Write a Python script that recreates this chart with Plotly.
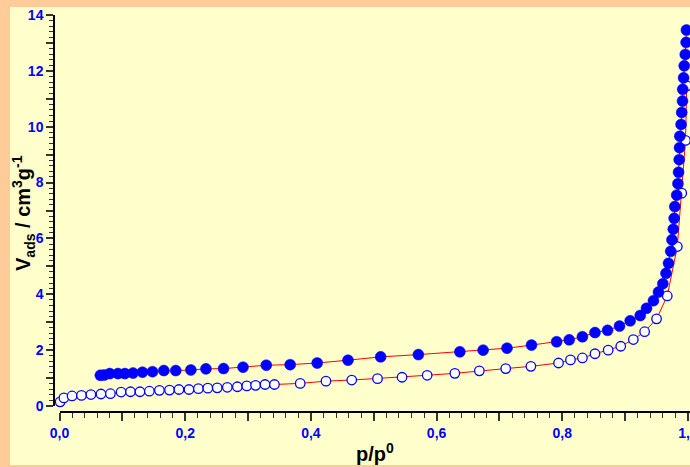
import plotly.graph_objects as go

# Adsorption branch (open circles)
ads_x = [0.001, 0.007, 0.020, 0.035, 0.050, 0.066, 0.081, 0.098, 0.113, 0.128,
         0.143, 0.159, 0.175, 0.190, 0.206, 0.221, 0.236, 0.251, 0.267, 0.283,
         0.298, 0.312, 0.327, 0.342, 0.383, 0.424, 0.465, 0.506, 0.545, 0.585,
         0.629, 0.668, 0.710, 0.750, 0.794, 0.813, 0.832, 0.852, 0.873, 0.893,
         0.913, 0.931, 0.950, 0.967, 0.983, 0.990, 0.996, 0.998]
ads_y = [0.15, 0.29, 0.36, 0.38, 0.41, 0.43, 0.44, 0.50, 0.51, 0.51,
         0.53, 0.56, 0.57, 0.59, 0.59, 0.62, 0.64, 0.65, 0.67, 0.69,
         0.72, 0.74, 0.77, 0.77, 0.81, 0.89, 0.93, 0.98, 1.03, 1.10,
         1.17, 1.26, 1.34, 1.42, 1.54, 1.65, 1.72, 1.87, 2.00, 2.14,
         2.38, 2.66, 3.12, 3.94, 5.71, 7.62, 9.51, 11.46]

# Desorption branch (filled circles)
des_x = [0.065, 0.071, 0.080, 0.093, 0.104, 0.117, 0.132, 0.148, 0.166, 0.185,
         0.209, 0.233, 0.261, 0.292, 0.329, 0.367, 0.410, 0.459, 0.511, 0.571,
         0.637, 0.674, 0.712, 0.751, 0.791, 0.811, 0.832, 0.852, 0.872, 0.891,
         0.908, 0.924, 0.934, 0.945, 0.953, 0.960, 0.965, 0.969, 0.9725, 0.9745,
         0.9766, 0.978, 0.979, 0.982, 0.984, 0.985, 0.986, 0.9865, 0.987, 0.989,
         0.990, 0.9913, 0.9916, 0.993, 0.994, 0.9957, 0.997, 0.9975]
des_y = [1.10, 1.11, 1.16, 1.16, 1.16, 1.18, 1.21, 1.23, 1.27, 1.27,
         1.29, 1.33, 1.34, 1.39, 1.46, 1.48, 1.54, 1.64, 1.76, 1.84,
         1.94, 2.00, 2.07, 2.18, 2.30, 2.37, 2.48, 2.63, 2.71, 2.86,
         3.05, 3.24, 3.50, 3.77, 4.08, 4.38, 4.75, 5.11, 5.54, 5.95,
         6.33, 6.72, 7.14, 7.55, 7.96, 8.37, 8.82, 9.25, 9.66, 10.08,
         10.51, 10.92, 11.34, 11.75, 12.18, 12.59, 13.02, 13.46]

x_tickvals = [0.0, 0.1, 0.2, 0.3, 0.4, 0.5, 0.6, 0.7, 0.8, 0.9, 1.0]
x_ticktext = ["0,0", "", "0,2", "", "0,4", "", "0,6", "", "0,8", "", "1,0"]
y_tickvals = list(range(0, 15))
y_ticktext = [str(v) if v % 2 == 0 else "" for v in y_tickvals]

W, H = 690, 467
ML, MR, MT, MB = 54, 0, 15, 55
PW, PH = W - ML - MR, H - MT - MB


def px(x):
    return (x - ML) / PW


def py(y):
    return (H - MB - y) / PH


def bold(labels):
    return ["<b>%s</b>" % t if t else "" for t in labels]


fig = go.Figure()

# red connecting lines
fig.add_trace(go.Scatter(x=ads_x, y=ads_y, mode="lines",
                         line=dict(color="#FF0000", width=1),
                         cliponaxis=False, showlegend=False, hoverinfo="skip"))
fig.add_trace(go.Scatter(x=des_x, y=des_y, mode="lines",
                         line=dict(color="#FF0000", width=1),
                         cliponaxis=False, showlegend=False, hoverinfo="skip"))
# markers
fig.add_trace(go.Scatter(x=ads_x, y=ads_y, mode="markers",
                         marker=dict(size=9.5, color="white",
                                     line=dict(color="#0000FF", width=1.3)),
                         cliponaxis=False, showlegend=False))
fig.add_trace(go.Scatter(x=des_x, y=des_y, mode="markers",
                         marker=dict(size=11, color="#0000FF",
                                     line=dict(color="#0000FF", width=0.5)),
                         cliponaxis=False, showlegend=False))

tickfont = dict(family="Liberation Sans, Arial, sans-serif", size=14, color="#0000FF")

fig.update_layout(
    width=W, height=H,
    margin=dict(l=ML, r=MR, t=MT, b=MB, pad=0, autoexpand=False),
    paper_bgcolor="#FFCC99",
    plot_bgcolor="rgba(0,0,0,0)",
    showlegend=False,
    xaxis=dict(
        domain=[px(59.5), 1.0], range=[0, (690 - 59.5) / 628.5],
        anchor="free", position=0, automargin=False,
        showline=True, linecolor="black", linewidth=1.5,
        showgrid=False, zeroline=False,
        tickmode="array", tickvals=x_tickvals, ticktext=bold(x_ticktext),
        ticks="outside", ticklen=8, tickwidth=1.5, tickcolor="#333333",
        minor=dict(dtick=0.02, ticks="outside", ticklen=5, tickwidth=1.2,
                   tickcolor="#333333", showgrid=False),
        tickfont=tickfont, ticklabeloverflow="allow",
    ),
    yaxis=dict(
        domain=[py(406), 1.0], range=[0, 14],
        anchor="free", position=0, automargin=False,
        showline=True, linecolor="black", linewidth=1.5,
        showgrid=False, zeroline=False,
        tickmode="array", tickvals=y_tickvals, ticktext=bold(y_ticktext),
        ticks="outside", ticklen=7, tickwidth=1.5, tickcolor="#333333",
        minor=dict(dtick=0.2, ticks="outside", ticklen=4, tickwidth=1.2,
                   tickcolor="#333333", showgrid=False),
        tickfont=tickfont, ticklabeloverflow="allow",
    ),
    shapes=[
        dict(type="rect", xref="paper", yref="paper", layer="below",
             x0=px(10), x1=px(700), y0=py(465), y1=py(7),
             fillcolor="#FFFFCC", line=dict(width=0)),
    ],
    annotations=[
        dict(text="<b>p/p<sup>0</sup></b>", xref="paper", yref="paper",
             x=px(375), y=py(452), xanchor="center", yanchor="middle",
             showarrow=False,
             font=dict(family="Liberation Sans, Arial, sans-serif", size=20, color="black")),
        dict(text="<b>V<sub>ads</sub> / cm<sup>3</sup>g<sup>-1</sup></b>",
             xref="paper", yref="paper", textangle=-90,
             x=px(24), y=py(213), xanchor="center", yanchor="middle",
             showarrow=False,
             font=dict(family="Liberation Sans, Arial, sans-serif", size=20, color="black")),
    ],
)

fig.write_html("out.html")
